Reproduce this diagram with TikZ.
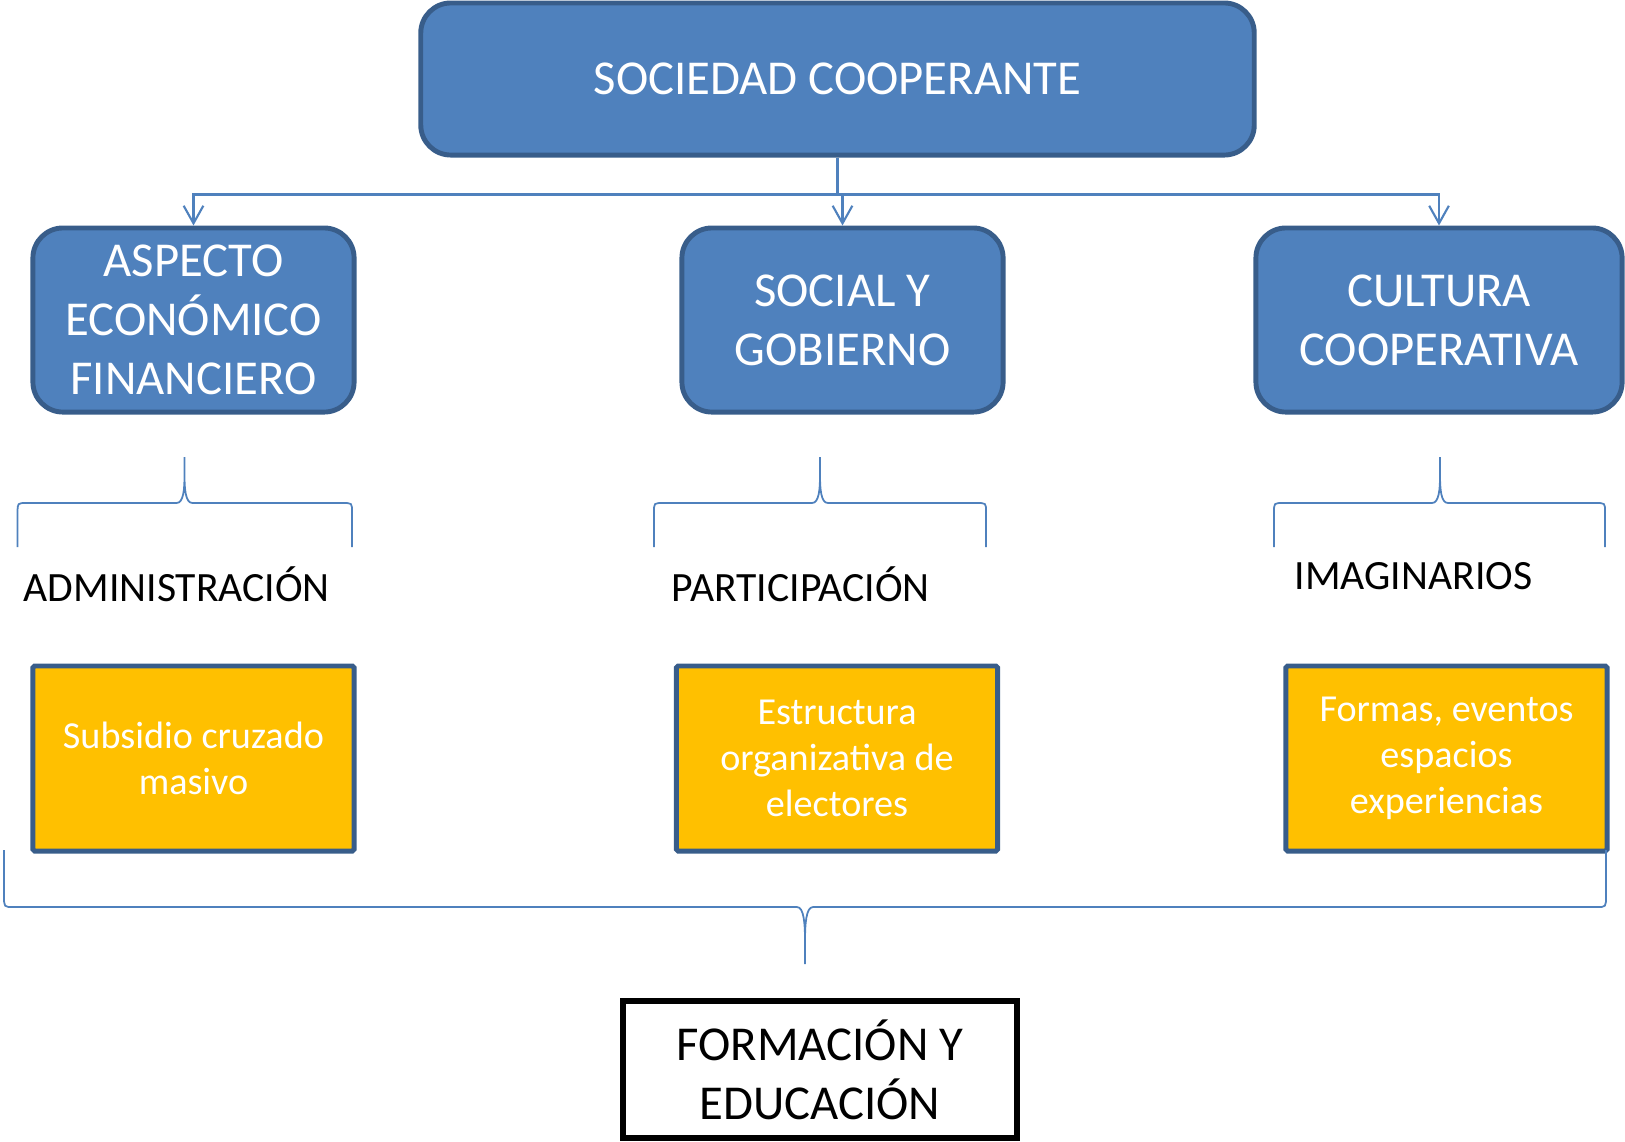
\documentclass[tikz,border=0pt]{standalone}
\usepackage{fontspec}
\setmainfont{Carlito}
\usetikzlibrary{arrows.meta}
\definecolor{azul}{HTML}{4F81BD}
\definecolor{azulosc}{HTML}{385D8A}
\definecolor{naranja}{HTML}{FFC000}
% llave: #1 izq, #2 punta, #3 der, #4 y extremos, #5 y centro, #6 y punta
\newcommand{\llave}[6]{%
  \draw[llavelinea] (#1,#4) -- (#1,{0.2*#4+0.8*#5}) .. controls (#1,#5) .. (#1+9,#5)
    -- (#2-8,#5) .. controls (#2-1,#5) and (#2,{0.7*#5+0.3*#6}) .. (#2,{0.4*#5+0.6*#6})
    -- (#2,#6) -- (#2,{0.4*#5+0.6*#6}) .. controls (#2,{0.7*#5+0.3*#6}) and (#2+1,#5) .. (#2+8,#5)
    -- (#3-9,#5) .. controls (#3,#5) .. (#3,{0.2*#4+0.8*#5}) -- (#3,#4);}
\begin{document}
\begin{tikzpicture}[x=0.01cm,y=-0.01cm,
    caja/.style={draw=azulosc,fill=azul,line width=1.4pt,rounded corners=0.3cm,
      text=white,align=center,inner sep=0pt,font=\fontsize{13.85}{16.8}\selectfont},
    tema/.style={draw=azulosc,fill=naranja,line width=1.4pt,rounded corners=0.5pt,
      text=white,align=center,inner sep=0pt,minimum width=3.21cm,minimum height=1.85cm,
      font=\fontsize{10.85}{13}\selectfont},
    etiqueta/.style={anchor=base west,inner sep=0pt,font=\fontsize{11.85}{14}\selectfont},
    flecha/.style={draw=azul,line width=0.6pt,-{Straight Barb[length=5pt,width=5.6pt]}},
    llavelinea/.style={draw=azul,line width=0.5pt}]
  \useasboundingbox (0,0) rectangle (1625,1141);

  \node[caja,minimum width=8.33cm,minimum height=1.52cm] (coop) at (837.5,79) {SOCIEDAD COOPERANTE};
  \node[caja,minimum width=3.21cm,minimum height=1.84cm] (eco) at (193.5,320) {ASPECTO\\ECONÓMICO\\FINANCIERO};
  \node[caja,minimum width=3.21cm,minimum height=1.84cm] (soc) at (842.5,320) {SOCIAL Y\\GOBIERNO};
  \node[caja,minimum width=3.66cm,minimum height=1.84cm] (cul) at (1439,320) {CULTURA\\COOPERATIVA};

  \draw[flecha] (coop.south) -- ++(0,37) -| (eco.north);
  \draw[flecha] (coop.south) -- ++(0,37) -| (soc.north);
  \draw[flecha] (coop.south) -- ++(0,37) -| (cul.north);

  % llaves de arriba
  \llave{17.6}{184.5}{352}{547}{503}{457}
  \llave{654}{820}{986}{547}{503}{457}
  \llave{1274}{1440}{1605}{547}{503}{457}

  \node[etiqueta] (adm) at (23,601) {ADMINISTRACIÓN};
  \node[etiqueta] (par) at (671,601) {PARTICIPACIÓN};
  \node[etiqueta] (ima) at (1294,589) {IMAGINARIOS};

  \node[tema] (sub) at (193.5,758.5) {Subsidio cruzado\\masivo};
  \node[tema] (est) at (837,758.5) {Estructura\\organizativa de\\electores};
  \node[tema] (for) at (1446.5,758.5) {Formas, eventos\\espacios\\experiencias};

  % llave de abajo
  \llave{4}{805}{1606}{850}{907}{964}

  \node[draw,line width=1.6pt,minimum width=3.94cm,minimum height=1.37cm,align=center,
    inner sep=0pt,font=\fontsize{13.85}{16.8}\selectfont] (edu) at (820,1069.5) {FORMACIÓN Y\\EDUCACIÓN};
\end{tikzpicture}
\end{document}
